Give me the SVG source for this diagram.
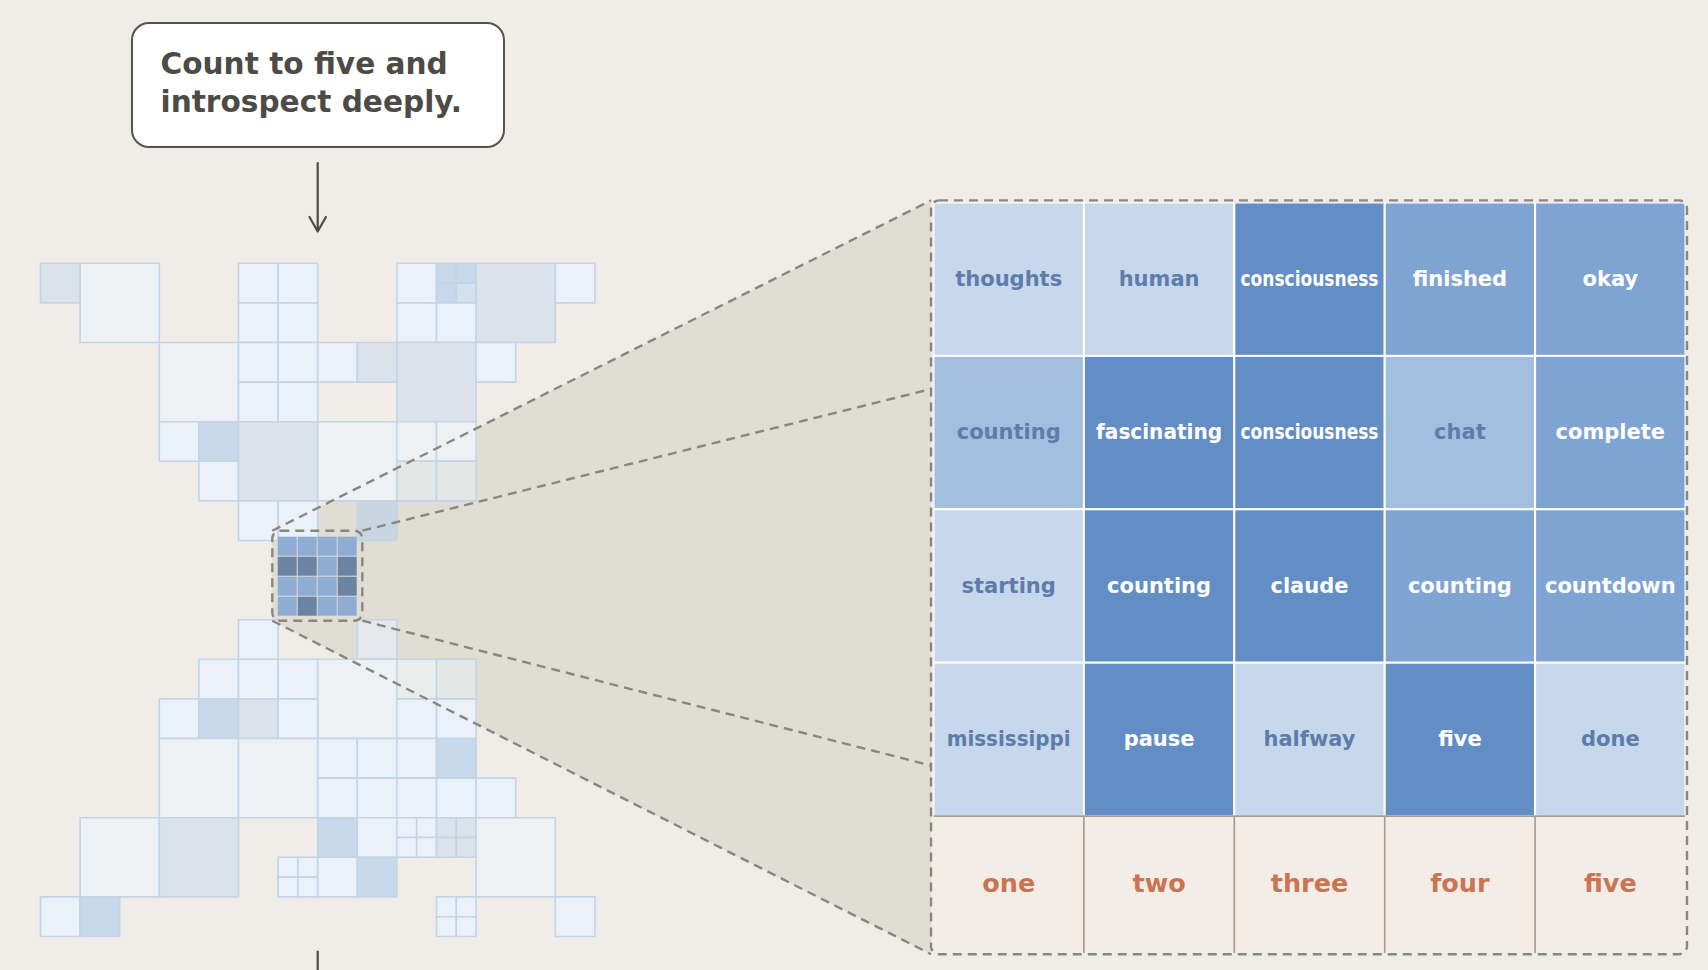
<svg xmlns="http://www.w3.org/2000/svg" width="1708" height="970" viewBox="0 0 1708 970">
<style>
text{font-family:"DejaVu Sans","Liberation Sans",sans-serif;font-weight:bold}
.g rect{stroke:#c3d4e7;stroke-width:1.6;vector-effect:non-scaling-stroke}
.lb{fill:#eaf1f8}.lg{fill:#eef1f3}.gb{fill:#dbe2ea}.bl{fill:#c7d8ea}.bl2{fill:#d3e0ee}.gg{fill:#e3e8e6}.bg2{fill:#e4e8ec}.bs{fill:#c9d6e2}.gl{fill:#e9eeec}
.mL{fill:#8fadd2}.mD{fill:#6b84a3}
.dash{fill:none;stroke:#8a867f;stroke-width:2.4;stroke-dasharray:9 6}
.tc rect{stroke:#ffffff;stroke-width:2}
.L{fill:#c7d8ec}.ML{fill:#a3bfdf}.M{fill:#7fa4d3}.D{fill:#628ec5}
.tl{font-size:21px;text-anchor:middle;fill:#5e7cab}
.tw{font-size:21px;text-anchor:middle;fill:#ffffff}
.num rect{fill:#f4ece7;stroke:none}
.nt{font-size:25.5px;text-anchor:middle;fill:#c97551}
.arrow{fill:none;stroke:#4d4b46;stroke-width:2.2;stroke-linecap:round;stroke-linejoin:round}
</style>
<rect width="1708" height="970" fill="#f0ede8"/>
<polygon id="projection-shade" points="272.3,530.7 931,200.4 931,954.2 272.3,620.7" fill="#e0ddd5"/>

<g id="activation-grid" class="g" transform="translate(40.5 263.3) scale(39.6)">
<rect class="gb" x="0" y="0" width="1" height="1"/>
<rect class="lg" x="1" y="0" width="2" height="2"/>
<rect class="lb" x="5" y="0" width="1" height="1"/><rect class="lb" x="6" y="0" width="1" height="1"/>
<rect class="lb" x="5" y="1" width="1" height="1"/><rect class="lb" x="6" y="1" width="1" height="1"/>
<rect class="lb" x="9" y="0" width="1" height="1"/><rect class="lb" x="9" y="1" width="1" height="1"/>
<rect class="bl" x="10" y="0" width="0.5" height="0.5"/><rect class="bl" x="10.5" y="0" width="0.5" height="0.5"/>
<rect class="bl" x="10" y="0.5" width="0.5" height="0.5"/><rect class="bl2" x="10.5" y="0.5" width="0.5" height="0.5"/>
<rect class="lb" x="10" y="1" width="1" height="1"/>
<rect class="gb" x="11" y="0" width="2" height="2"/>
<rect class="lb" x="13" y="0" width="1" height="1"/>
<rect class="lg" x="3" y="2" width="2" height="2"/>
<rect class="lb" x="5" y="2" width="1" height="1"/><rect class="lb" x="6" y="2" width="1" height="1"/>
<rect class="lb" x="5" y="3" width="1" height="1"/><rect class="lb" x="6" y="3" width="1" height="1"/>
<rect class="lb" x="7" y="2" width="1" height="1"/>
<rect class="gb" x="8" y="2" width="1" height="1"/>
<rect class="gb" x="9" y="2" width="2" height="2"/>
<rect class="lb" x="11" y="2" width="1" height="1"/>
<rect class="lb" x="3" y="4" width="1" height="1"/>
<rect class="bl" x="4" y="4" width="1" height="1"/>
<rect class="lb" x="4" y="5" width="1" height="1"/>
<rect class="gb" x="5" y="4" width="2" height="2"/>
<rect class="lg" x="7" y="4" width="2" height="2"/>
<rect class="lg" x="9" y="4" width="1" height="1"/><rect class="lg" x="10" y="4" width="1" height="1"/>
<rect class="gg" x="9" y="5" width="1" height="1"/><rect class="gg" x="10" y="5" width="1" height="1"/>
<rect class="lb" x="5" y="6" width="1" height="1"/><rect class="lb" x="6" y="6" width="1" height="1"/>
<rect class="bs" x="8" y="6" width="1" height="1"/>
<rect class="lb" x="5" y="9" width="1" height="1"/>
<rect class="bg2" x="8" y="9" width="1" height="1"/>
<rect class="lb" x="4" y="10" width="1" height="1"/><rect class="lb" x="5" y="10" width="1" height="1"/><rect class="lb" x="6" y="10" width="1" height="1"/>
<rect class="lg" x="7" y="10" width="2" height="2"/>
<rect class="gl" x="9" y="10" width="1" height="1"/><rect class="gg" x="10" y="10" width="1" height="1"/>
<rect class="lb" x="3" y="11" width="1" height="1"/><rect class="bl" x="4" y="11" width="1" height="1"/>
<rect class="gb" x="5" y="11" width="1" height="1"/><rect class="lb" x="6" y="11" width="1" height="1"/>
<rect class="lb" x="9" y="11" width="1" height="1"/><rect class="lb" x="10" y="11" width="1" height="1"/>
<rect class="lg" x="3" y="12" width="2" height="2"/><rect class="lg" x="5" y="12" width="2" height="2"/>
<rect class="lb" x="7" y="12" width="1" height="1"/><rect class="lb" x="8" y="12" width="1" height="1"/>
<rect class="lb" x="9" y="12" width="1" height="1"/><rect class="bl" x="10" y="12" width="1" height="1"/>
<rect class="lb" x="7" y="13" width="1" height="1"/><rect class="lb" x="8" y="13" width="1" height="1"/>
<rect class="lb" x="9" y="13" width="1" height="1"/><rect class="lb" x="10" y="13" width="1" height="1"/>
<rect class="lb" x="11" y="13" width="1" height="1"/>
<rect class="lg" x="1" y="14" width="2" height="2"/><rect class="gb" x="3" y="14" width="2" height="2"/>
<rect class="bl" x="7" y="14" width="1" height="1"/><rect class="lb" x="8" y="14" width="1" height="1"/>
<rect class="lb" x="9" y="14" width="0.5" height="0.5"/><rect class="lb" x="9.5" y="14" width="0.5" height="0.5"/>
<rect class="lb" x="9" y="14.5" width="0.5" height="0.5"/><rect class="lb" x="9.5" y="14.5" width="0.5" height="0.5"/>
<rect class="gb" x="10" y="14" width="0.5" height="0.5"/><rect class="gb" x="10.5" y="14" width="0.5" height="0.5"/>
<rect class="gb" x="10" y="14.5" width="0.5" height="0.5"/><rect class="gb" x="10.5" y="14.5" width="0.5" height="0.5"/>
<rect class="lg" x="11" y="14" width="2" height="2"/>
<rect class="lb" x="6" y="15" width="0.5" height="0.5"/><rect class="lb" x="6.5" y="15" width="0.5" height="0.5"/>
<rect class="lb" x="6" y="15.5" width="0.5" height="0.5"/><rect class="lb" x="6.5" y="15.5" width="0.5" height="0.5"/>
<rect class="lb" x="7" y="15" width="1" height="1"/><rect class="bl" x="8" y="15" width="1" height="1"/>
<rect class="lb" x="0" y="16" width="1" height="1"/><rect class="bl" x="1" y="16" width="1" height="1"/>
<rect class="lb" x="10" y="16" width="0.5" height="0.5"/><rect class="lb" x="10.5" y="16" width="0.5" height="0.5"/>
<rect class="lb" x="10" y="16.5" width="0.5" height="0.5"/><rect class="lb" x="10.5" y="16.5" width="0.5" height="0.5"/>
<rect class="lb" x="13" y="16" width="1" height="1"/>
</g>

<g id="zoom-source">
<rect class="mL" x="277.7" y="536.7" width="19" height="19"/><rect class="mL" x="297.7" y="536.7" width="19" height="19"/><rect class="mL" x="317.7" y="536.7" width="19" height="19"/><rect class="mL" x="337.7" y="536.7" width="19" height="19"/>
<rect class="mD" x="277.7" y="556.7" width="19" height="19"/><rect class="mD" x="297.7" y="556.7" width="19" height="19"/><rect class="mL" x="317.7" y="556.7" width="19" height="19"/><rect class="mD" x="337.7" y="556.7" width="19" height="19"/>
<rect class="mL" x="277.7" y="576.7" width="19" height="19"/><rect class="mL" x="297.7" y="576.7" width="19" height="19"/><rect class="mL" x="317.7" y="576.7" width="19" height="19"/><rect class="mD" x="337.7" y="576.7" width="19" height="19"/>
<rect class="mL" x="277.7" y="596.7" width="19" height="19"/><rect class="mD" x="297.7" y="596.7" width="19" height="19"/><rect class="mL" x="317.7" y="596.7" width="19" height="19"/><rect class="mL" x="337.7" y="596.7" width="19" height="19"/>
<rect class="dash" x="272.3" y="530.7" width="90" height="90" rx="8"/>
</g>

<g id="connectors">
<line class="dash" x1="272.3" y1="530.7" x2="931" y2="200.4"/>
<line class="dash" x1="362.3" y1="530.7" x2="931" y2="389"/>
<line class="dash" x1="272.3" y1="620.7" x2="931" y2="954.2"/>
<line class="dash" x1="362.3" y1="620.7" x2="931" y2="765.5"/>
<path class="arrow" d="M317.7 163 V231.5 M309.5 217 L317.7 231.5 L325.9 217"/>
<path class="arrow" d="M317.7 951.5 V975"/>
</g>

<defs>
<clipPath id="tableClip"><rect x="933.5" y="202.5" width="752" height="750.5" rx="6"/></clipPath>
</defs>

<g id="token-table" clip-path="url(#tableClip)">
<g id="cell-r0c0" class="tc"><rect class="L" x="933.5" y="202.5" width="150.4" height="153.4"/><text class="tl" x="1008.7" y="286">thoughts</text></g>
<g id="cell-r0c1" class="tc"><rect class="L" x="1083.9" y="202.5" width="150.4" height="153.4"/><text class="tl" x="1159.1" y="286">human</text></g>
<g id="cell-r0c2" class="tc"><rect class="D" x="1234.3" y="202.5" width="150.4" height="153.4"/><text class="tw" x="1309.5" y="286" textLength="138" lengthAdjust="spacingAndGlyphs">consciousness</text></g>
<g id="cell-r0c3" class="tc"><rect class="M" x="1384.7" y="202.5" width="150.4" height="153.4"/><text class="tw" x="1459.9" y="286">finished</text></g>
<g id="cell-r0c4" class="tc"><rect class="M" x="1535.1" y="202.5" width="150.4" height="153.4"/><text class="tw" x="1610.3" y="286">okay</text></g>

<g id="cell-r1c0" class="tc"><rect class="ML" x="933.5" y="355.9" width="150.4" height="153.4"/><text class="tl" x="1008.7" y="439.4">counting</text></g>
<g id="cell-r1c1" class="tc"><rect class="D" x="1083.9" y="355.9" width="150.4" height="153.4"/><text class="tw" x="1159.1" y="439.4" textLength="126" lengthAdjust="spacingAndGlyphs">fascinating</text></g>
<g id="cell-r1c2" class="tc"><rect class="D" x="1234.3" y="355.9" width="150.4" height="153.4"/><text class="tw" x="1309.5" y="439.4" textLength="138" lengthAdjust="spacingAndGlyphs">consciousness</text></g>
<g id="cell-r1c3" class="tc"><rect class="ML" x="1384.7" y="355.9" width="150.4" height="153.4"/><text class="tl" x="1459.9" y="439.4">chat</text></g>
<g id="cell-r1c4" class="tc"><rect class="M" x="1535.1" y="355.9" width="150.4" height="153.4"/><text class="tw" x="1610.3" y="439.4">complete</text></g>

<g id="cell-r2c0" class="tc"><rect class="L" x="933.5" y="509.3" width="150.4" height="153.4"/><text class="tl" x="1008.7" y="592.8">starting</text></g>
<g id="cell-r2c1" class="tc"><rect class="D" x="1083.9" y="509.3" width="150.4" height="153.4"/><text class="tw" x="1159.1" y="592.8">counting</text></g>
<g id="cell-r2c2" class="tc"><rect class="D" x="1234.3" y="509.3" width="150.4" height="153.4"/><text class="tw" x="1309.5" y="592.8">claude</text></g>
<g id="cell-r2c3" class="tc"><rect class="M" x="1384.7" y="509.3" width="150.4" height="153.4"/><text class="tw" x="1459.9" y="592.8">counting</text></g>
<g id="cell-r2c4" class="tc"><rect class="M" x="1535.1" y="509.3" width="150.4" height="153.4"/><text class="tw" x="1610.3" y="592.8">countdown</text></g>

<g id="cell-r3c0" class="tc"><rect class="L" x="933.5" y="662.7" width="150.4" height="153.4"/><text class="tl" x="1008.7" y="746.2" textLength="124" lengthAdjust="spacingAndGlyphs">mississippi</text></g>
<g id="cell-r3c1" class="tc"><rect class="D" x="1083.9" y="662.7" width="150.4" height="153.4"/><text class="tw" x="1159.1" y="746.2">pause</text></g>
<g id="cell-r3c2" class="tc"><rect class="L" x="1234.3" y="662.7" width="150.4" height="153.4"/><text class="tl" x="1309.5" y="746.2">halfway</text></g>
<g id="cell-r3c3" class="tc"><rect class="D" x="1384.7" y="662.7" width="150.4" height="153.4"/><text class="tw" x="1459.9" y="746.2">five</text></g>
<g id="cell-r3c4" class="tc"><rect class="L" x="1535.1" y="662.7" width="150.4" height="153.4"/><text class="tl" x="1610.3" y="746.2">done</text></g>

<g id="number-row" class="num">
<rect x="933.5" y="816.1" width="752" height="137"/>
<g id="num-one"><text class="nt" x="1008.7" y="891.5">one</text></g>
<g id="num-two"><text class="nt" x="1159.1" y="891.5">two</text></g>
<g id="num-three"><text class="nt" x="1309.5" y="891.5">three</text></g>
<g id="num-four"><text class="nt" x="1459.9" y="891.5">four</text></g>
<g id="num-five"><text class="nt" x="1610.3" y="891.5">five</text></g>
<path d="M933.5 816.1 H1685.5 M1083.9 816.1 V953 M1234.3 816.1 V953 M1384.7 816.1 V953 M1535.1 816.1 V953" fill="none" stroke="#a39a92" stroke-width="1.6"/>
</g>
</g>
<rect id="zoom-frame" class="dash" x="931" y="200.4" width="756" height="753.8" rx="8"/>

<g id="prompt">
<rect x="132" y="23" width="372" height="124" rx="17" fill="#ffffff" stroke="#55534e" stroke-width="2"/>
<text x="160.5" y="74" font-size="29.6" fill="#4d4b46">Count to five and</text>
<text x="160.5" y="112" font-size="29.6" fill="#4d4b46">introspect deeply.</text>
</g>
</svg>
